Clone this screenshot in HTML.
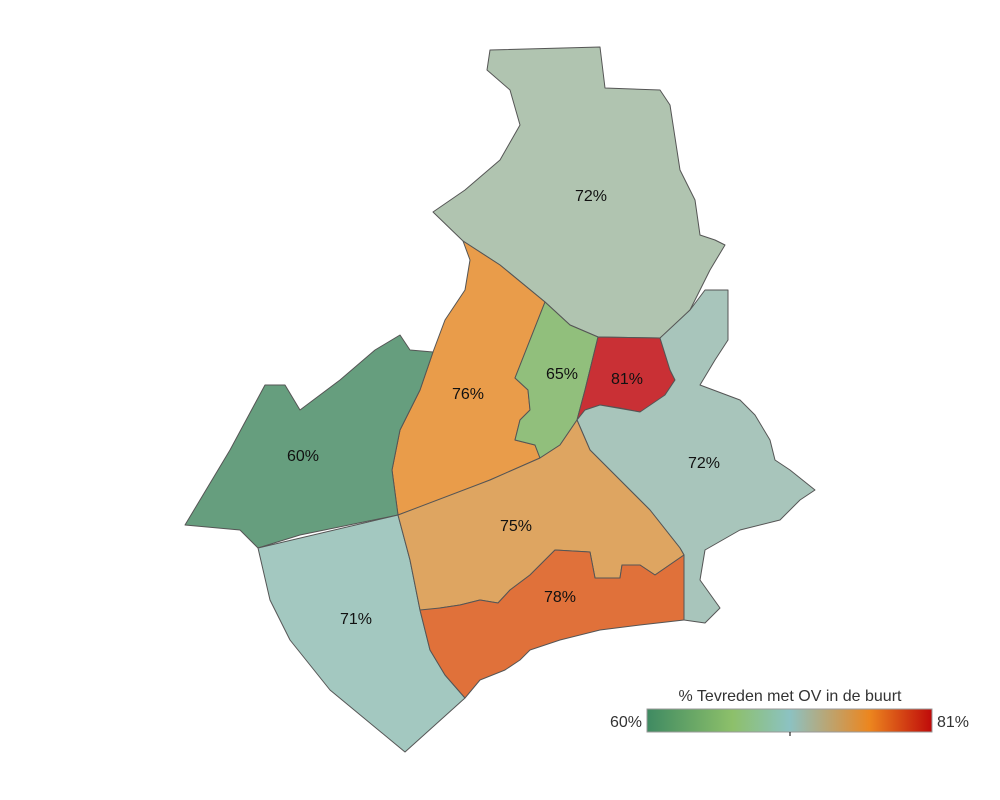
<!DOCTYPE html>
<html><head><meta charset="utf-8"><style>
html,body{margin:0;padding:0;background:#fff;}
svg{display:block;font-family:"Liberation Sans",sans-serif;}
</style></head><body>
<svg width="1000" height="800" viewBox="0 0 1000 800">
<defs><linearGradient id="g" x1="0" x2="1" y1="0" y2="0">
<stop offset="0" stop-color="#3f8a62"/><stop offset="0.3" stop-color="#8dc06a"/><stop offset="0.5" stop-color="#8cc2c2"/><stop offset="0.78" stop-color="#ec861f"/><stop offset="1" stop-color="#bf0a0a"/></linearGradient></defs>
<g stroke="#555" stroke-width="1" stroke-linejoin="round">
<polygon fill="#b0c4b0" points="433,212 465,190 500,160 520,125 510,90 487,70 490,50 600,47 605,88 660,90 670,105 680,170 695,200 700,235 715,240 725,245 710,270 690,310 670,330 660,338 598,337 570,325 545,302 500,265 463,241"/>
<polygon fill="#e99c4a" points="463,241 470,260 465,290 455,305 445,320 433,352 420,390 400,430 392,470 398,515 440,500 490,480 540,458 535,445 515,440 520,420 530,410 528,390 515,378 530,340 545,302 500,265"/>
<polygon fill="#91bf7c" points="545,302 570,325 598,337 585,390 577,420 560,445 540,458 535,445 515,440 520,420 530,410 528,390 515,378 530,340"/>
<polygon fill="#c93035" points="598,337 660,338 670,370 675,380 665,395 655,410 640,412 620,408 600,405 585,410 577,420 585,390"/>
<polygon fill="#a8c5bb" points="660,338 690,310 705,290 728,290 728,340 715,360 700,385 740,400 755,415 770,440 775,460 790,470 815,490 800,500 780,520 740,530 705,550 700,580 720,608 705,623 684,620 684,555 680,548 650,510 620,480 590,450 577,420 585,410 600,405 640,412 665,395 675,380 670,370"/>
<polygon fill="#669e7e" points="185,525 230,450 265,385 285,385 300,410 340,380 375,350 400,335 410,350 433,352 420,390 400,430 392,470 398,515 300,535 258,548 240,530"/>
<polygon fill="#a3c8c0" points="258,548 398,515 410,560 420,610 430,650 445,675 465,698 405,752 330,690 290,640 270,600"/>
<polygon fill="#dea561" points="398,515 490,480 540,458 560,445 577,420 590,450 620,480 650,510 680,548 684,555 655,575 640,565 622,565 620,578 595,578 590,552 555,550 530,575 510,590 498,603 480,600 460,605 440,608 430,612 420,610 410,560"/>
<polygon fill="#e0713a" points="420,610 440,608 460,605 480,600 498,603 510,590 530,575 555,550 590,552 595,578 620,578 622,565 640,565 655,575 684,555 684,620 640,625 600,630 560,640 530,650 520,660 505,670 480,680 465,698 445,675 430,650"/>
</g>
<g font-size="16" fill="#111" text-anchor="middle">
<text x="591" y="201">72%</text>
<text x="468" y="399">76%</text>
<text x="562" y="379">65%</text>
<text x="627" y="384">81%</text>
<text x="704" y="468">72%</text>
<text x="303" y="461">60%</text>
<text x="516" y="531">75%</text>
<text x="560" y="602">78%</text>
<text x="356" y="624">71%</text>
</g>
<text x="790" y="701" font-size="16" fill="#333" text-anchor="middle">% Tevreden met OV in de buurt</text>
<rect x="647" y="709" width="285" height="23" fill="url(#g)" stroke="#999" stroke-width="1"/>
<line x1="790" y1="732" x2="790" y2="736" stroke="#000"/>
<text x="642" y="727" font-size="16" fill="#333" text-anchor="end">60%</text>
<text x="937" y="727" font-size="16" fill="#333">81%</text>
</svg>
</body></html>
